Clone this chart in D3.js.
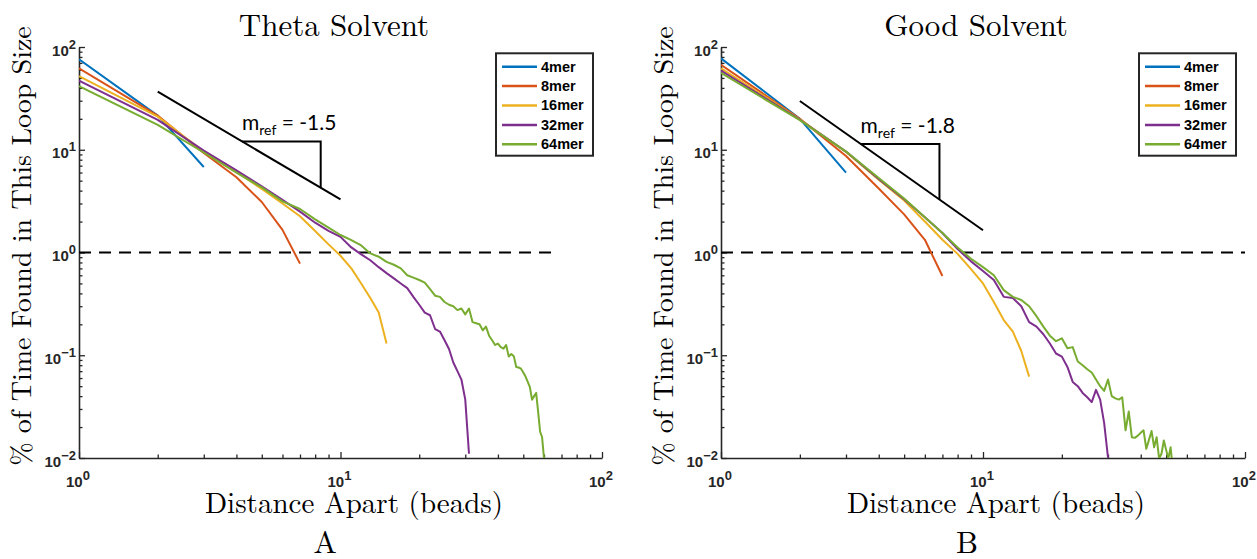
<!DOCTYPE html>
<html>
<head>
<meta charset="utf-8">
<script src="https://cdn.jsdelivr.net/npm/d3@7"></script>
<style>
  body { margin: 0; background: #fff; }
  svg { display: block; }
</style>
</head>
<body>
<svg id="chart" width="1257" height="559"></svg>
<script>
const seriesNames = ['4mer', '8mer', '16mer', '32mer', '64mer'];
const seriesColors = ['#0072BD', '#D95319', '#EDB120', '#7E2F8E', '#77AC30'];

// % of time at loop size 1, 2, 3, ... (theta solvent)
const theta4mer = [76, 21.5, 6.8];
const theta8mer = [62, 21.5, 9.3, 5.4, 3.1, 1.66, 0.78];
const theta16mer = [52, 21, 9.6, 6.1, 4.15, 3.0, 2.25, 1.62, 1.2, 0.93, 0.70, 0.50, 0.36, 0.26, 0.13];
const theta32mer = [47, 19.5, 9.8, 6.3, 4.4, 3.25, 2.5, 1.95, 1.62, 1.42, 1.12, 0.96, 0.84, 0.72, 0.63,
  0.56, 0.50, 0.45, 0.37, 0.31, 0.26, 0.245, 0.18, 0.17, 0.14, 0.115, 0.085, 0.07, 0.058, 0.037, 0.011];
const theta64mer = [41.7, 17.5, 9.4, 6.0, 4.3, 3.15, 2.65, 2.1, 1.75, 1.48, 1.32, 1.17, 0.98, 0.91, 0.81,
  0.76, 0.70, 0.60, 0.57, 0.54, 0.51, 0.44, 0.38, 0.37, 0.33, 0.31, 0.30, 0.275, 0.285, 0.25,
  0.285, 0.21, 0.205, 0.20, 0.175, 0.19, 0.155, 0.14, 0.126, 0.13, 0.12, 0.116, 0.126, 0.097, 0.103,
  0.098, 0.077, 0.076, 0.074, 0.068, 0.062, 0.055, 0.049, 0.037, 0.04, 0.043, 0.028, 0.018, 0.016, 0.0099];

// good solvent
const good4mer = [77.5, 20, 6.0];
const good8mer = [67, 20, 8.7, 4.2, 2.35, 1.33, 0.59];
const good16mer = [62, 19.8, 9.5, 5.1, 3.2, 2.0, 1.33, 0.97, 0.69, 0.50, 0.33, 0.22, 0.17, 0.11, 0.062];
const good32mer = [59, 19.6, 9.6, 5.2, 3.3, 2.2, 1.55, 1.08, 0.82, 0.66, 0.54, 0.37, 0.36, 0.30, 0.21,
  0.19, 0.16, 0.13, 0.104, 0.097, 0.077, 0.055, 0.050, 0.043, 0.039, 0.035, 0.046, 0.037, 0.022, 0.0101];
const good64mer = [56, 19.4, 9.6, 5.3, 3.35, 2.2, 1.55, 1.12, 0.87, 0.72, 0.60, 0.43, 0.37, 0.345, 0.30,
  0.24, 0.19, 0.155, 0.137, 0.146, 0.117, 0.12, 0.087, 0.08, 0.073, 0.068, 0.058, 0.05, 0.045, 0.058,
  0.040, 0.038, 0.037, 0.039, 0.0186, 0.0283, 0.0159, 0.0157, 0.0165, 0.0176, 0.0186, 0.0123, 0.015, 0.0183, 0.0127,
  0.0159, 0.0099, 0.011, 0.0148, 0.012, 0.0099, 0.0127, 0.008];

const xTickExps = [0, 1, 2];
const yTickExps = [-2, -1, 0, 1, 2];
const panelTitles = ['Theta Solvent', 'Good Solvent'];
const panelLetters = ['A', 'B'];
const refSlopes = [-1.5, -1.8];
const refLabels = ['-1.5', '-1.8'];
const refStartY = [36.7, 29.8];   // reference line value at x = 2
const refTriStart = [4.2, 3.41];  // triangle drawn from x to 2x
const dashEnd = [64, 100];

const panels = [
  { left: 79, right: 602, series: [theta4mer, theta8mer, theta16mer, theta32mer, theta64mer] },
  { left: 721, right: 1245, series: [good4mer, good8mer, good16mer, good32mer, good64mer] },
];

const plotTop = 47;
const plotBottom = 458;
const axisColor = '#262626';
const serif = "'Latin Modern Roman', 'CMU Serif', 'Liberation Serif', serif";
const sans = "'Liberation Sans', Arial, Helvetica, sans-serif";

const svg = d3.select('#chart');

// "10" with a raised exponent, matlab style
function tenPow(sel, e) {
  sel.append('tspan').text('10');
  sel.append('tspan').attr('dy', -7).attr('font-size', '13px')
    .text(String(e).replace('-', '\u2212'));
}

panels.forEach((p, pi) => {
  const x = d3.scaleLog().domain([1, 100]).range([p.left, p.right]);
  const y = d3.scaleLog().domain([0.01, 100]).range([plotBottom, plotTop]);
  const g = svg.append('g');

  g.append('clipPath').attr('id', `clip${pi}`)
    .append('rect')
    .attr('x', p.left).attr('y', plotTop - 2)
    .attr('width', p.right - p.left).attr('height', plotBottom - plotTop + 2);

  // minor ticks 2..9 in each decade
  const minorX = [];
  [1, 10].forEach((d) => d3.range(2, 10).forEach((k) => minorX.push(k * d)));
  const minorY = [];
  [0.01, 0.1, 1, 10].forEach((d) => d3.range(2, 10).forEach((k) => minorY.push(k * d)));

  const xMajor = xTickExps.map((e) => 10 ** e);
  const yMajor = yTickExps.map((e) => 10 ** e);

  g.append('g').attr('transform', `translate(0,${plotBottom})`)
    .call(d3.axisBottom(x).tickValues(xMajor).tickSize(-6).tickSizeOuter(0).tickFormat(''));
  g.append('g').attr('transform', `translate(0,${plotBottom})`)
    .call(d3.axisBottom(x).tickValues(minorX).tickSize(-3.5).tickSizeOuter(0).tickFormat(''))
    .select('.domain').remove();
  g.append('g').attr('transform', `translate(${p.left},0)`)
    .call(d3.axisLeft(y).tickValues(yMajor).tickSize(-6).tickSizeOuter(0).tickFormat(''));
  g.append('g').attr('transform', `translate(${p.left},0)`)
    .call(d3.axisLeft(y).tickValues(minorY).tickSize(-3.5).tickSizeOuter(0).tickFormat(''))
    .select('.domain').remove();

  g.selectAll('.domain').attr('stroke', axisColor).attr('stroke-width', 1.6);
  g.selectAll('.tick line').attr('stroke', axisColor).attr('stroke-width', 1.3);

  // tick labels 10^n
  xTickExps.forEach((e) => {
    const t = g.append('text')
      .attr('x', x(10 ** e) - 1).attr('y', plotBottom + 28.5)
      .attr('text-anchor', 'middle')
      .attr('font-family', sans).attr('font-weight', 'bold')
      .attr('font-size', '15px').attr('fill', axisColor);
    tenPow(t, e);
  });
  yTickExps.forEach((e) => {
    const t = g.append('text')
      .attr('x', p.left - 3).attr('y', y(10 ** e) + 8.5)
      .attr('text-anchor', 'end')
      .attr('font-family', sans).attr('font-weight', 'bold')
      .attr('font-size', '15px').attr('fill', axisColor);
    tenPow(t, e);
  });

  // dashed 1% line
  g.append('line')
    .attr('x1', x(1)).attr('x2', x(dashEnd[pi]))
    .attr('y1', y(1)).attr('y2', y(1))
    .attr('stroke', '#000').attr('stroke-width', 2)
    .attr('stroke-dasharray', '12 8');

  // data curves
  const line = d3.line()
    .x((d, i) => x(i + 1))
    .y((d) => y(d));
  g.append('g').attr('clip-path', `url(#clip${pi})`)
    .selectAll('path')
    .data(p.series)
    .enter()
    .append('path')
    .attr('d', line)
    .attr('fill', 'none')
    .attr('stroke', (d, i) => seriesColors[i])
    .attr('stroke-width', 2)
    .attr('stroke-linejoin', 'round');

  // reference slope line + triangle
  const refY = (v) => refStartY[pi] * (v / 2) ** refSlopes[pi];
  g.append('line')
    .attr('x1', x(2)).attr('y1', y(refY(2)))
    .attr('x2', x(10)).attr('y2', y(refY(10)))
    .attr('stroke', '#000').attr('stroke-width', 2);
  const t0 = refTriStart[pi];
  const t1 = 2 * t0;
  g.append('path')
    .attr('d', `M${x(t0)},${y(refY(t0))}H${x(t1)}V${y(refY(t1))}`)
    .attr('fill', 'none').attr('stroke', '#000').attr('stroke-width', 2);
  const ref = g.append('text')
    .attr('x', x(t0)).attr('y', y(refY(t0)) - 11)
    .attr('font-family', "Lato, 'Open Sans', sans-serif")
    .attr('font-size', '21px').attr('fill', '#000');
  ref.append('tspan').text('m');
  ref.append('tspan').attr('dy', 5).attr('font-size', '14px').text('ref');
  ref.append('tspan').attr('dy', -5).text(` = ${refLabels[pi]}`);

  // legend
  const lg = g.append('g').attr('transform', `translate(${p.right - 106},53.3)`);
  lg.append('rect').attr('width', 97).attr('height', 102.4)
    .attr('fill', '#fff').attr('stroke', axisColor).attr('stroke-width', 2);
  seriesNames.forEach((name, i) => {
    const yy = 13.4 + i * 19.4;
    lg.append('line').attr('x1', 6).attr('x2', 41).attr('y1', yy).attr('y2', yy)
      .attr('stroke', seriesColors[i]).attr('stroke-width', 2.5);
    lg.append('text').attr('x', 45).attr('y', yy + 5)
      .attr('font-family', sans).attr('font-weight', 'bold')
      .attr('font-size', '14.5px').attr('fill', '#000')
      .text(name);
  });

  // titles and labels
  g.append('text')
    .attr('x', p.left + 255).attr('y', 36)
    .attr('text-anchor', 'middle')
    .attr('font-family', serif).attr('font-size', '31px')
    .text(panelTitles[pi]);
  g.append('text')
    .attr('x', p.left + 275).attr('y', 513)
    .attr('text-anchor', 'middle')
    .attr('font-family', serif).attr('font-size', '29px')
    .text('Distance Apart (beads)');
  g.append('text')
    .attr('transform', `translate(${p.left - 48},246) rotate(-90)`)
    .attr('text-anchor', 'middle')
    .attr('font-family', serif).attr('font-size', '28px')
    .text('% of Time Found in This Loop Size');
  g.append('text')
    .attr('x', p.left + 246).attr('y', 553)
    .attr('text-anchor', 'middle')
    .attr('font-family', serif).attr('font-size', '31px')
    .text(panelLetters[pi]);
});
</script>
</body>
</html>
